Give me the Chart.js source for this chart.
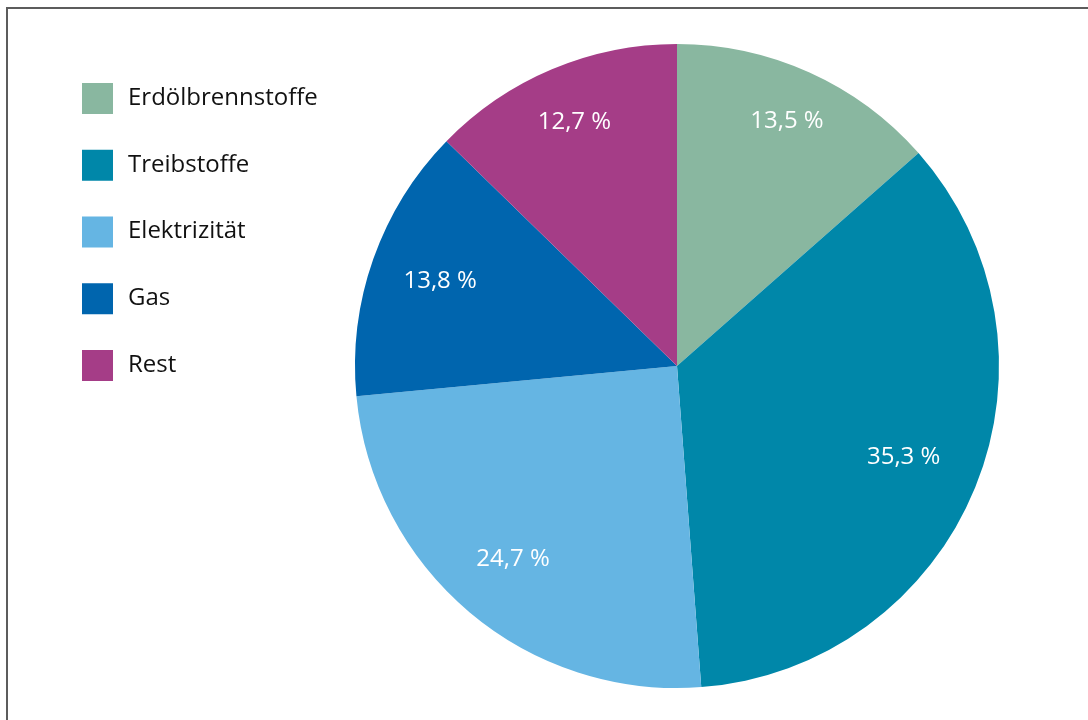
<!DOCTYPE html>
<html>
<head>
<meta charset="utf-8">
<script src="https://cdn.jsdelivr.net/npm/chart.js@4/dist/chart.umd.min.js"></script>
<style>
  html, body { margin: 0; padding: 0; background: #fff; }
  #wrap { position: relative; width: 1088px; height: 720px; overflow: hidden; }
  #frame { position: absolute; left: 6px; top: 7px; width: 1200px; height: 800px;
           border-left: 2px solid #5c5c5c; border-top: 2px solid #5c5c5c; box-sizing: border-box; }
  canvas { position: absolute; left: 0; top: 0; }
</style>
</head>
<body>
<div id="wrap">
  <div id="frame"></div>
  <canvas id="c" width="1088" height="720"></canvas>
</div>
<script>
const categories = ["Erdölbrennstoffe", "Treibstoffe", "Elektrizität", "Gas", "Rest"];
const shares = [13.5, 35.3, 24.7, 13.8, 12.7];
const sliceColors = ["#89b7a0", "#0087a9", "#65b5e3", "#0065ae", "#a53d87"];
// style: radial placement of the value labels, as fraction of the radius
const labelRadius = [0.83, 0.76, 0.79, 0.78, 0.82];

const FONT = "'Open Sans', 'Noto Sans', sans-serif";

const customLegend = {
  id: 'customLegend',
  afterDraw(chart) {
    const ctx = chart.ctx;
    ctx.save();
    ctx.font = "24px " + FONT;
    ctx.textBaseline = 'middle';
    ctx.textAlign = 'left';
    chart.data.labels.forEach((lab, i) => {
      const y = 83 + i * 66.75;
      ctx.fillStyle = chart.data.datasets[0].backgroundColor[i];
      ctx.fillRect(82, y, 31, 31);
      ctx.fillStyle = '#111';
      ctx.fillText(lab, 128, y + 15);
    });
    ctx.restore();
  }
};

const sliceLabels = {
  id: 'sliceLabels',
  afterDatasetsDraw(chart) {
    const ctx = chart.ctx;
    const meta = chart.getDatasetMeta(0);
    ctx.save();
    ctx.font = "24px " + FONT;
    ctx.fillStyle = '#fff';
    ctx.textAlign = 'center';
    ctx.textBaseline = 'middle';
    meta.data.forEach((arc, i) => {
      const p = arc.getProps(['x', 'y', 'startAngle', 'endAngle', 'outerRadius'], true);
      const mid = (p.startAngle + p.endAngle) / 2;
      const r = p.outerRadius * labelRadius[i];
      const v = chart.data.datasets[0].data[i];
      ctx.fillText(v.toFixed(1).replace('.', ',') + ' %', p.x + Math.cos(mid) * r, p.y + Math.sin(mid) * r - 1);
    });
    ctx.restore();
  }
};

new Chart(document.getElementById('c'), {
  type: 'pie',
  data: {
    labels: categories,
    datasets: [{
      data: shares,
      backgroundColor: sliceColors,
      borderWidth: 0
    }]
  },
  options: {
    responsive: false,
    devicePixelRatio: 1,
    animation: false,
    layout: { padding: { left: 355, right: 89, top: 44, bottom: 32 } },
    plugins: {
      legend: { display: false },
      tooltip: { enabled: false }
    }
  },
  plugins: [customLegend, sliceLabels]
});
</script>
</body>
</html>
